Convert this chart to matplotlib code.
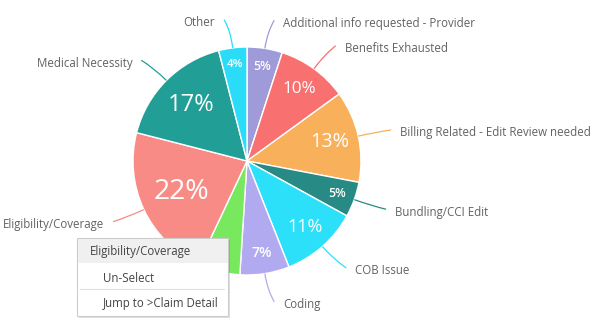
import numpy as np
import matplotlib
matplotlib.use("Agg")
import matplotlib.pyplot as plt
from matplotlib.path import Path
from matplotlib.patches import PathPatch, Rectangle

plt.rcParams['font.family'] = ['Open Sans', 'DejaVu Sans']

# data (clockwise from 12 o'clock); the green slice's name is hidden by the menu
categories = ["Additional info requested - Provider", "Benefits Exhausted",
              "Billing Related - Edit Review needed", "Bundling/CCI Edit",
              "COB Issue", "Coding", "", "Eligibility/Coverage",
              "Medical Necessity", "Other"]
shares = [5, 10, 13, 5, 11, 7, 6, 22, 17, 4]
colors = ["#9f9ad8", "#f8706f", "#f9b05b", "#288a84", "#2ce0f9",
          "#b2aaf0", "#78e85e", "#f98b86", "#219f97", "#2adcf8"]
menu_title = "Eligibility/Coverage"
menu_items = ["Un-Select", "Jump to >Claim Detail"]

W, H = 600, 325
cx, cy, R = 247, 164, 114

fig = plt.figure(figsize=(6, 3.25), dpi=100)
ax = fig.add_axes([0, 0, 1, 1])

wedges, _ = ax.pie(shares, colors=colors, startangle=90, counterclock=False,
                   center=(cx, cy), radius=R,
                   wedgeprops=dict(edgecolor="white", linewidth=1))
ax.set_xlim(0, W)
ax.set_ylim(0, H)
ax.set_aspect("equal")
ax.axis("off")

for w, name, v, col in zip(wedges, categories, shares, colors):
    if not name:
        continue  # covered by the context menu
    mid = np.deg2rad((w.theta1 + w.theta2) / 2)
    ux, uy = np.cos(mid), np.sin(mid)
    # percentage inside the slice: bigger slices -> bigger text, nearer the centre
    rf = 0.9 - 0.012 * v
    ax.text(cx + rf * R * ux, cy + rf * R * uy, f"{v}%", color="white",
            ha="center", va="center", fontsize=5.5 + 0.68 * v,
            fontweight="semibold" if v <= 7 else "normal", zorder=3)
    side = 1 if ux >= 0 else -1
    p0 = (cx + R * ux, cy + R * uy)
    p1 = (cx + 1.15 * R * ux, cy + 1.15 * R * uy)
    p2 = (cx + 1.25 * R * ux + side * 5, cy + 1.25 * R * uy)
    path = Path([p0, p1, p2], [Path.MOVETO, Path.CURVE3, Path.CURVE3])
    ax.add_patch(PathPatch(path, fill=False, edgecolor=col, lw=0.9, zorder=2))
    ax.text(p2[0] + side * 9, p2[1] - 3, name, color="#626262", fontsize=8.3,
            ha="left" if side > 0 else "right", va="center")

# context menu overlay
mx0, mx1, my0, my1 = 77, 228, 9, 87
ax.add_patch(Rectangle((mx0 + 2, my0 - 2), mx1 - mx0, my1 - my0,
                       facecolor="#000000", alpha=0.12, lw=0, zorder=5))
ax.add_patch(Rectangle((mx0, my0), mx1 - mx0, my1 - my0, facecolor="white",
                       edgecolor="#cccccc", lw=0.8, zorder=6))
ax.add_patch(Rectangle((mx0 + 0.5, 62), mx1 - mx0 - 1, my1 - 62.5,
                       facecolor="#f0f0f0", lw=0, zorder=7))
ax.plot([80, 224], [36, 36], color="#e2e2e2", lw=0.8, zorder=7)
ax.text(90, 74, menu_title, fontsize=8.3, color="#444444", va="center", zorder=8)
for y, item in zip([47, 21], menu_items):
    ax.text(103, y, item, fontsize=8.3, color="#444444", va="center", zorder=8)

fig.savefig("out.png", dpi=100)
